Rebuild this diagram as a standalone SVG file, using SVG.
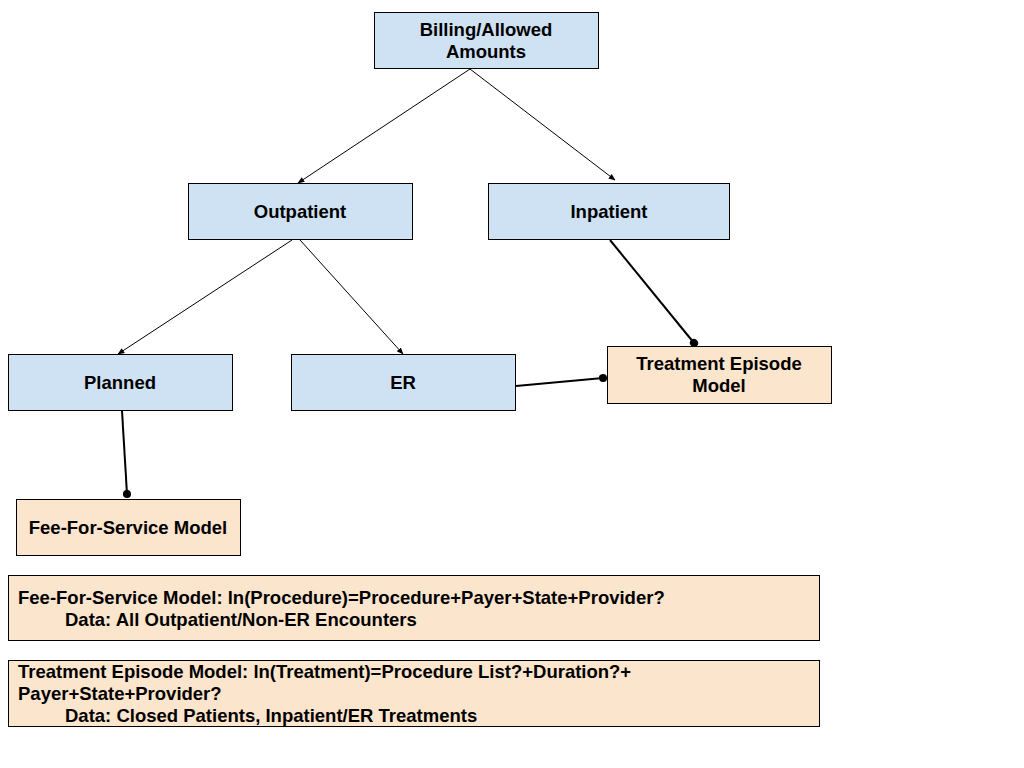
<svg xmlns="http://www.w3.org/2000/svg" width="1024" height="768" viewBox="0 0 1024 768">
<style>
.b{fill:#cfe2f3;stroke:#000;stroke-width:1}
.o{fill:#fce5cd;stroke:#000;stroke-width:1}
text{font-family:"Liberation Sans",Arial,sans-serif;font-weight:bold;font-size:18.5px;fill:#000}
.c{text-anchor:middle}
.thin{stroke:#000;stroke-width:1;fill:none;marker-end:url(#arr)}
.thick{stroke:#000;stroke-width:2;fill:none;marker-end:url(#dot)}
</style>
<defs>
<marker id="arr" viewBox="0 0 10 10" refX="9" refY="5" markerWidth="7" markerHeight="7" orient="auto" markerUnits="userSpaceOnUse"><path d="M0,1 L10,5 L0,9 Z" fill="#000"/></marker>
<marker id="dot" viewBox="0 0 10 10" refX="5" refY="5" markerWidth="9" markerHeight="9" orient="auto" markerUnits="userSpaceOnUse"><circle cx="5" cy="5" r="4.5" fill="#000"/></marker>
</defs>
<rect width="1024" height="768" fill="#fff"/>
<g id="connectors">
<line class="thin" x1="470" y1="69" x2="298" y2="183"/>
<line class="thin" x1="470" y1="69" x2="615" y2="180"/>
<line class="thin" x1="292" y1="240" x2="118" y2="354"/>
<line class="thin" x1="300" y1="240" x2="403" y2="354"/>
<line class="thick" x1="610" y1="240" x2="694" y2="343"/>
<line class="thick" x1="516" y1="386" x2="603" y2="378"/>
<line class="thick" x1="122" y1="411" x2="127" y2="494"/>
</g>
<g id="billing"><rect class="b" x="374.5" y="12.5" width="224" height="56"/><text class="c" x="486" y="36">Billing/Allowed</text><text class="c" x="486" y="58">Amounts</text></g>
<g id="outpatient"><rect class="b" x="188.5" y="183.5" width="224" height="56"/><text class="c" x="300" y="218">Outpatient</text></g>
<g id="inpatient"><rect class="b" x="488.5" y="183.5" width="241" height="56"/><text class="c" x="609" y="218">Inpatient</text></g>
<g id="planned"><rect class="b" x="8.5" y="354.5" width="224" height="56"/><text class="c" x="120" y="389">Planned</text></g>
<g id="er"><rect class="b" x="291.5" y="354.5" width="224" height="56"/><text class="c" x="403" y="389">ER</text></g>
<g id="treatment"><rect class="o" x="607.5" y="346.5" width="224" height="57"/><text class="c" x="719" y="370">Treatment Episode</text><text class="c" x="719" y="392">Model</text></g>
<g id="ffs"><rect class="o" x="16.5" y="499.5" width="224" height="56"/><text class="c" x="128" y="534">Fee-For-Service Model</text></g>
<g id="note1"><rect class="o" x="8.5" y="575.5" width="811" height="65"/><text x="18" y="604">Fee-For-Service Model: ln(Procedure)=Procedure+Payer+State+Provider?</text><text x="65" y="626">Data: All Outpatient/Non-ER Encounters</text></g>
<g id="note2"><rect class="o" x="8.5" y="660.5" width="811" height="66"/><text x="18" y="678">Treatment Episode Model: ln(Treatment)=Procedure List?+Duration?+</text><text x="18" y="700">Payer+State+Provider?</text><text x="65" y="722">Data: Closed Patients, Inpatient/ER Treatments</text></g>
</svg>
